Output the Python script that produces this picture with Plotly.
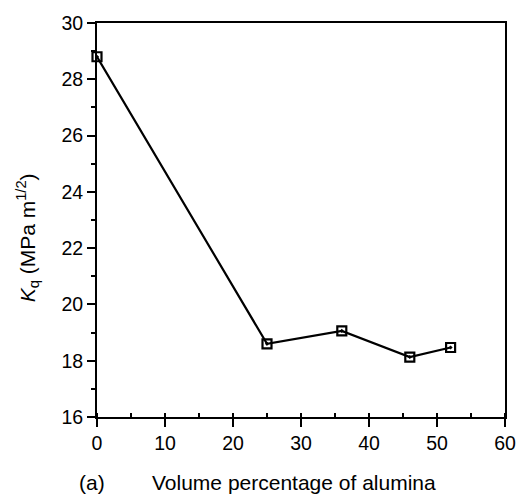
import plotly.graph_objects as go

vol_pct = [0, 25, 36, 46, 52]
kq = [28.8, 18.6, 19.06, 18.13, 18.47]

x_ticks = [0, 10, 20, 30, 40, 50, 60]
y_ticks = [16, 18, 20, 22, 24, 26, 28, 30]

FONT = "Liberation Sans, Arial, Helvetica, sans-serif"
FS = 19.5
FT = 21

fig = go.Figure()
fig.add_trace(go.Scatter(
    x=vol_pct, y=kq, mode="lines+markers",
    line=dict(color="black", width=2.2),
    marker=dict(symbol="square-open-dot", size=9, color="black",
                line=dict(color="black", width=2.2)),
    showlegend=False, cliponaxis=False,
))

axis_common = dict(
    showgrid=False, zeroline=False, showline=True, linecolor="black",
    linewidth=2, mirror=True, ticks="outside", tickcolor="black",
    tickwidth=2, ticklen=8,
    tickfont=dict(family=FONT, size=FS, color="black"),
)

fig.update_xaxes(range=[0, 60], tickvals=x_ticks,
                 minor=dict(dtick=5, ticks="inside", ticklen=4,
                            tickwidth=2, tickcolor="black"),
                 **axis_common)
fig.update_yaxes(range=[16, 30], tickvals=y_ticks,
                 minor=dict(dtick=1, ticks="outside", ticklen=4,
                            tickwidth=2, tickcolor="black"),
                 **axis_common)

fig.add_annotation(text="<i>K</i><sub>q</sub> (MPa m<sup>1/2</sup>)",
                   xref="paper", yref="paper", x=-0.17, y=0.455,
                   xanchor="center", yanchor="middle", textangle=-90,
                   showarrow=False,
                   font=dict(family=FONT, size=FT, color="black"))
fig.add_annotation(text="(a)", xref="paper", yref="paper",
                   x=-0.012, y=-0.165, xanchor="center", yanchor="middle",
                   showarrow=False,
                   font=dict(family=FONT, size=FT, color="black"))
fig.add_annotation(text="Volume percentage of alumina", xref="paper",
                   yref="paper", x=0.482, y=-0.165, xanchor="center",
                   yanchor="middle", showarrow=False,
                   font=dict(family=FONT, size=FT, color="black"))

fig.update_layout(
    width=528, height=497,
    margin=dict(l=97, r=16, t=17, b=80),
    paper_bgcolor="white", plot_bgcolor="white",
)

fig.write_html(
    "out.html",
    config={"displayModeBar": False},
    post_script="document.body.style.margin='0';document.body.style.overflow='hidden';",
)
